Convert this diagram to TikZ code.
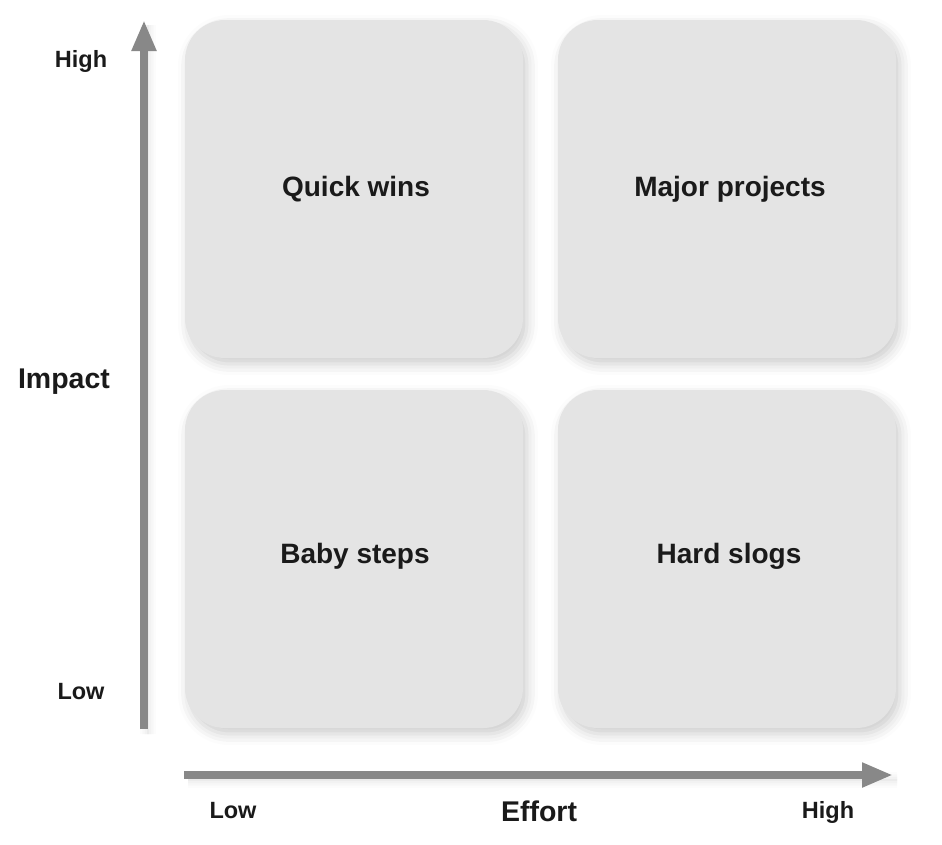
\documentclass[tikz,border=0pt]{standalone}
\usepackage{fontspec}
\setmainfont{Liberation Sans}
\usetikzlibrary{arrows.meta,shadows.blur}
\definecolor{boxfill}{HTML}{E4E4E4}
\definecolor{axisgray}{HTML}{888888}
\definecolor{txt}{HTML}{1A1A1A}
\begin{document}
\begin{tikzpicture}[x=1pt,y=-1pt,
  quad/.style={rectangle, rounded corners=40pt, fill=boxfill, minimum width=338pt, minimum height=338pt,
    inner sep=0pt,
    blur shadow={shadow xshift=4pt, shadow yshift=-6pt, shadow blur radius=11pt, shadow opacity=20}},
  qtext/.style={text=txt, font=\fontsize{28}{32}\selectfont\bfseries, inner sep=0pt},
  axis/.style={draw=axisgray, line width=8pt, -{Triangle[width=23pt,length=31pt]},
    blur shadow={shadow xshift=4pt, shadow yshift=-5pt, shadow blur radius=8pt, shadow opacity=16}},
  lbl/.style={text=txt, font=\fontsize{23.5}{26}\selectfont\bfseries, inner sep=0pt},
  title/.style={text=txt, font=\fontsize{28.5}{32}\selectfont\bfseries, inner sep=0pt}]
\useasboundingbox (0,0) rectangle (942,844);
\node[quad] (qw) at (354,189) {};
\node[quad] (mp) at (727,189) {};
\node[quad] (bs) at (354,559) {};
\node[quad] (hs) at (727,559) {};
\node[qtext] (qwt) at (356,189) {Quick wins};
\node[qtext] (mpt) at (730,189) {Major projects};
\node[qtext] (bst) at (355,556) {Baby steps};
\node[qtext] (hst) at (729,556) {Hard slogs};
\coordinate (vS) at (144,729);
\coordinate (vE) at (144,20);
\coordinate (hS) at (184,775);
\coordinate (hE) at (893,775);
\draw[axis] (vS) -- (vE);
\draw[axis] (hS) -- (hE);
\node[lbl] (yh) at (81,61) {High};
\node[lbl] (yl) at (81,692) {Low};
\node[title] (yt) at (64,382) {Impact};
\node[lbl] (xl) at (233,811) {Low};
\node[lbl] (xh) at (828,812) {High};
\node[title] (xt) at (539,811) {Effort};
\end{tikzpicture}
\end{document}
